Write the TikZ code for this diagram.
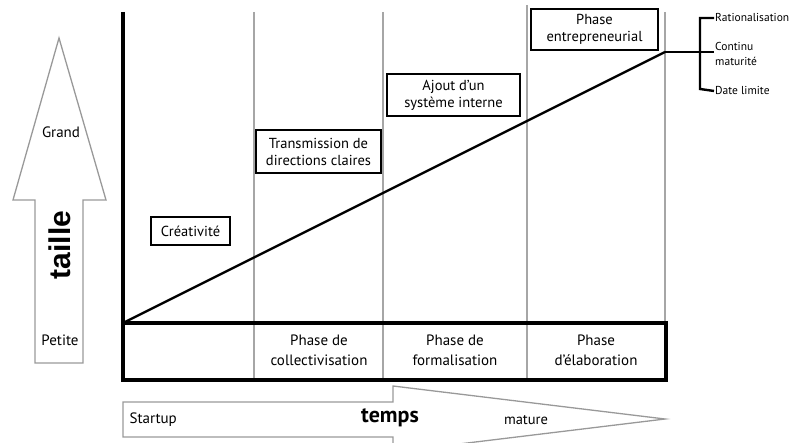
\documentclass[tikz,border=0pt]{standalone}
\usepackage{fontspec}
\setmainfont{PT Sans}
\newfontfamily\arialfont{Liberation Sans}
\usetikzlibrary{positioning}

\definecolor{arrowgray}{gray}{0.6}
\definecolor{gridgray}{gray}{0.65}

\begin{document}
\begin{tikzpicture}[x=1pt, y=-1pt,
  stagebox/.style={draw, line width=2.2pt, align=center, inner sep=2pt,
    font=\fontsize{14.5}{17}\selectfont},
  phaselabel/.style={align=center, font=\fontsize{15}{20}\selectfont},
  sidelabel/.style={anchor=west, inner sep=1pt, font=\fontsize{11.5}{15}\selectfont},
  bigarrow/.style={draw=arrowgray, line width=1.3pt},
  gridline/.style={draw=gridgray, line width=1.1pt}]
  \useasboundingbox (0,0) rectangle (791,443);

  % fleche verticale : taille
  \draw[bigarrow] (59,38) -- (106,200) -- (83,200) -- (83,363) -- (35,363)
    -- (35,200) -- (13,200) -- cycle;
  \node[font=\fontsize{15}{17}\selectfont] (grand) at (61,132) {Grand};
  \node[font=\fontsize{30}{32}\arialfont\bfseries, rotate=90] (taille) at (60,245) {taille};
  \node[font=\fontsize{15}{17}\selectfont] (petite) at (60,340) {Petite};

  % fleche horizontale : temps
  \draw[bigarrow] (123,402) -- (393,402) -- (393,386) -- (665,419) -- (393,452)
    -- (393,437) -- (123,437) -- cycle;
  \node[anchor=west, font=\fontsize{15}{17}\selectfont] (startup) at (126,420) {Startup};
  \node[font=\fontsize{22}{24}\selectfont\bfseries] (temps) at (390,418) {temps};
  \node[font=\fontsize{14.5}{17}\selectfont] (mature) at (526,420) {mature};

  % colonnes des phases
  \coordinate (O) at (123,323);
  \coordinate (T) at (665,52);
  \draw[gridline] (254,12) -- (254,380);
  \draw[gridline] (383,12) -- (383,380);
  \draw[gridline] (527,5) -- (527,380);
  \draw[gridline] (665,12) -- (665,323);
  \draw[line width=3.5pt] (123,12) -- (123,380) -- (666,380) -- (666,323) -- (123,323);

  \node[phaselabel] (collect) at (319,350) {Phase de\\collectivisation};
  \node[phaselabel] (formal) at (455,350) {Phase de\\formalisation};
  \node[phaselabel] (elabor) at (596,350) {Phase\\d’élaboration};

  % croissance
  \draw[line width=2.4pt] (O) -- (T);

  \node[stagebox, minimum width=79pt, minimum height=28pt] (creat) at (190.5,231) {Créativité};
  \node[stagebox, minimum width=125pt, minimum height=43pt] (trans) at (318.5,151.5)
    {Transmission de\\directions claires};
  \node[stagebox, minimum width=133pt, minimum height=42pt] (ajout) at (453.5,95)
    {Ajout d’un\\système interne};
  \node[stagebox, minimum width=127pt, minimum height=41pt] (entre) at (594.5,29.5)
    {Phase\\entrepreneurial};

  % accolade de fin
  \coordinate (Bt) at (700,18);
  \coordinate (Bb) at (700,89);
  \node[sidelabel] (ratio) at (714,18) {Rationalisation};
  \node[sidelabel, align=left] (contin) at (714,54) {Continu\\maturité};
  \node[sidelabel] (limite) at (714,91) {Date limite};
  \draw[line width=2.4pt] (ratio.west) -- (Bt) -- (Bb) -- (limite.west);
  \draw[line width=2.4pt] (T) -- (714,52);
\end{tikzpicture}
\end{document}
